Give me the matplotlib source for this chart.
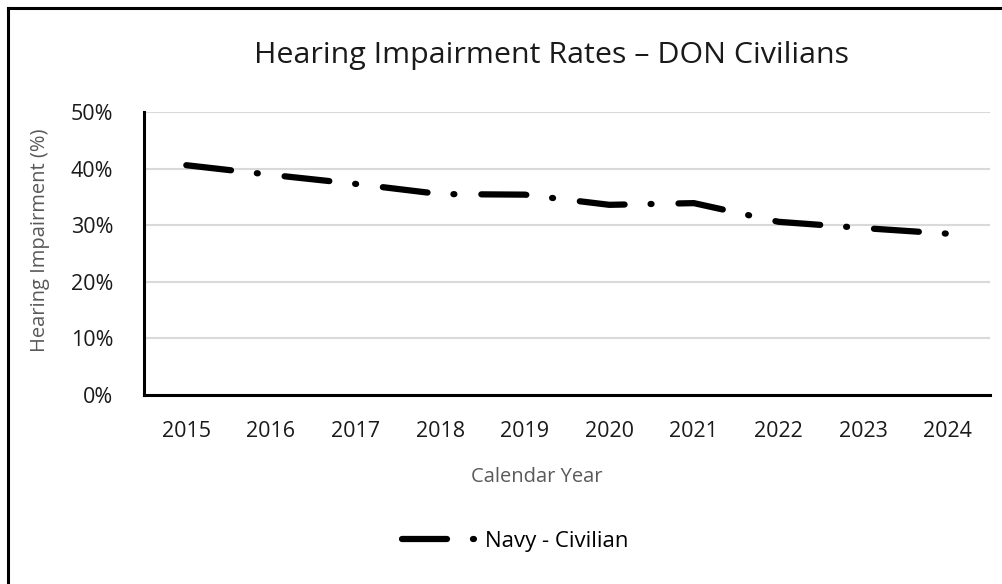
import matplotlib
matplotlib.use("Agg")
import matplotlib.pyplot as plt
from matplotlib.lines import Line2D
from matplotlib.ticker import FuncFormatter, MultipleLocator

plt.rcParams['font.family'] = ['Open Sans', 'DejaVu Sans']
plt.rcParams['lines.scale_dashes'] = False

years = ['2015', '2016', '2017', '2018', '2019', '2020', '2021', '2022', '2023', '2024']
navy_civilian = [40.6, 38.9, 37.3, 35.5, 35.4, 33.6, 33.9, 30.6, 29.5, 28.5]

W, H = 1003, 584
fig = plt.figure(figsize=(W / 100, H / 100), dpi=100)
fig.patch.set_facecolor('white')

ax = fig.add_axes([144 / W, 1 - 395 / H, (990 - 144) / W, (395 - 112) / H])
x = list(range(len(years)))
dash_pat = (32.4, 18.7, 0.7, 19.4)
line, = ax.plot(x, navy_civilian, color='black', linewidth=4.5,
                dash_capstyle='round', solid_capstyle='round',
                label='Navy - Civilian')
line.set_dashes(dash_pat)

ax.set_xlim(-0.5, len(years) - 0.5)
ax.set_ylim(0, 50)
ax.yaxis.set_major_locator(MultipleLocator(10))
ax.yaxis.set_major_formatter(FuncFormatter(lambda v, p: f"{int(v)}%"))
ax.set_xticks(x)
ax.set_xticklabels(years)
ax.grid(axis='y', color='#d9d9d9', linewidth=1.5)
ax.set_axisbelow(True)
for s in ['top', 'right']:
    ax.spines[s].set_visible(False)
for s in ['left', 'bottom']:
    ax.spines[s].set_color('black')
    ax.spines[s].set_linewidth(2.2)
ax.tick_params(axis='both', length=0, labelsize=15.5, colors='#1a1a1a')
ax.tick_params(axis='x', pad=19)
ax.tick_params(axis='y', pad=22)

fig.text(551 / W, 1 - 55 / H, 'Hearing Impairment Rates – DON Civilians',
         ha='center', va='center', fontsize=21.9, color='#1a1a1a')
fig.text(537 / W, 1 - 477 / H, 'Calendar Year', ha='center', va='center',
         fontsize=14.5, color='#595959')
fig.text(40 / W, 1 - 240 / H, 'Hearing Impairment (%)', ha='center', va='center',
         rotation=90, fontsize=14.5, color='#595959')

leg = fig.legend(handles=[line], loc='center', bbox_to_anchor=(515 / W, 1 - 541 / H),
                 frameon=False, fontsize=16, handlelength=3.4, handletextpad=0.35)

# figure frame (top and left edges visible)
fig.add_artist(Line2D([8 / W, 1], [1 - 8 / H, 1 - 8 / H], transform=fig.transFigure,
                      color='black', linewidth=2.2))
fig.add_artist(Line2D([8 / W, 8 / W], [0, 1 - 8 / H], transform=fig.transFigure,
                      color='black', linewidth=2.2))

fig.savefig('out.png', dpi=100, facecolor='white')
